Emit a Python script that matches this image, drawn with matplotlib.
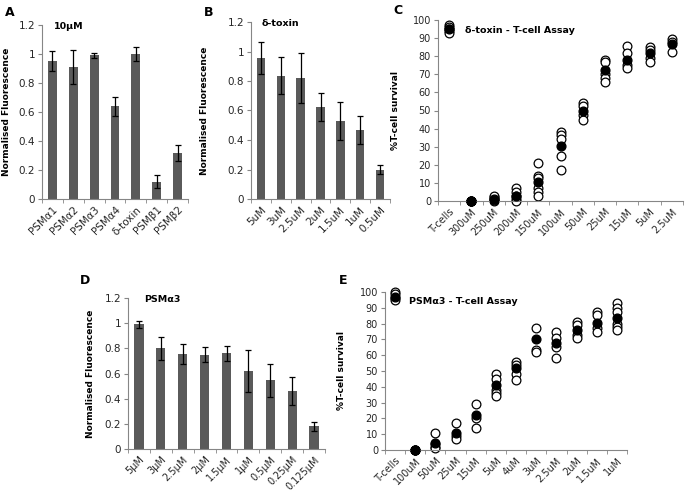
import numpy as np
import matplotlib
matplotlib.use("Agg")
import matplotlib.pyplot as plt
from matplotlib.ticker import FuncFormatter, FixedLocator

# panel A - 10uM screen
a_labels = ["PSMα1", "PSMα2", "PSMα3", "PSMα4", "δ-toxin", "PSMβ1", "PSMβ2"]
a_values = [0.95, 0.91, 0.99, 0.64, 1.00, 0.12, 0.32]
a_errors = [0.07, 0.12, 0.02, 0.065, 0.05, 0.045, 0.055]

# panel B - delta-toxin dilution
b_labels = ["5uM", "3uM", "2.5uM", "2uM", "1.5uM", "1uM", "0.5uM"]
b_values = [0.955, 0.835, 0.82, 0.625, 0.53, 0.465, 0.20]
b_errors = [0.11, 0.125, 0.17, 0.095, 0.13, 0.095, 0.03]

# panel D - PSMa3 dilution
d_labels = ["5μM", "3μM", "2.5μM", "2μM", "1.5μM", "1μM", "0.5μM", "0.25μM", "0.125μM"]
d_values = [0.99, 0.80, 0.755, 0.75, 0.76, 0.62, 0.545, 0.46, 0.18]
d_errors = [0.025, 0.09, 0.08, 0.06, 0.06, 0.165, 0.13, 0.11, 0.035]

# panel C - delta-toxin T-cell assay
c_labels = ["T-cells", "300uM", "250uM", "200uM", "150uM", "100uM",
            "50uM", "25uM", "15uM", "5uM", "2.5uM"]
c_reps = [
    [97, 96, 95, 94, 93],
    [0, 0, 0, 0, 0],
    [0, 0.5, 1, 2, 2.5],
    [7, 5, 3, 1, 0],
    [21, 14, 12.5, 7, 5, 3],
    [38, 36.5, 34, 25, 17],
    [54, 52.5, 47.5, 45],
    [78, 77, 70, 68, 66],
    [85.5, 82, 75, 73.5],
    [85, 83.5, 79, 77],
    [89.5, 88, 82.5],
]
c_means = [95, 0, 1, 2.5, 10.5, 30.5, 50, 72.5, 78, 82, 86.5]

# panel E - PSMa3 T-cell assay
e_labels = ["T-cells", "100uM", "50uM", "25uM", "15uM", "5uM", "4uM",
            "3uM", "2.5uM", "2uM", "1.5uM", "1uM"]
e_reps = [
    [100, 99, 96, 95],
    [0, 0, 0, 0],
    [11, 4, 2, 1],
    [17, 9, 7],
    [29, 20, 14],
    [48, 45, 38, 36, 34],
    [56, 54, 48, 44],
    [77, 63, 62],
    [75, 71, 65, 58],
    [81, 79, 73, 71],
    [87.5, 85.5, 77, 75],
    [93, 90, 87.5, 80, 78, 76],
]
e_means = [97, 0, 4.5, 11, 22, 41, 52, 70, 68, 76, 80.5, 83.5]

BAR = "#5a5a5a"
SPINE = "#868686"
TXT = "#262626"

plt.rcParams["font.family"] = ["DejaVu Sans"]

fig = plt.figure(figsize=(6.86, 5.00), dpi=100)


def style_axes(ax, n):
    for s in ["top", "right"]:
        ax.spines[s].set_visible(False)
    for s in ["left", "bottom"]:
        ax.spines[s].set_color(SPINE)
        ax.spines[s].set_linewidth(0.8)
    ax.set_xlim(-0.5, n - 0.5)
    ax.set_xticks(np.arange(n))
    ax.xaxis.set_minor_locator(FixedLocator(np.arange(n + 1) - 0.5))
    ax.tick_params(axis="x", which="major", length=0, pad=4)
    ax.tick_params(axis="x", which="minor", length=3, color=SPINE, direction="out")
    ax.tick_params(axis="y", length=3, color=SPINE, direction="out", pad=2)


def bar_panel(rect, labels, values, errors, title, ylab_x, fs=7.5):
    ax = fig.add_axes(rect)
    x = np.arange(len(labels))
    ax.bar(x, values, width=0.42, color=BAR, zorder=2)
    ax.errorbar(x, values, yerr=errors, fmt="none", ecolor="black",
                elinewidth=0.9, capsize=2.2, capthick=0.9, zorder=3)
    style_axes(ax, len(labels))
    ax.set_ylim(0, 1.2)
    ax.set_yticks(np.arange(0, 1.21, 0.2))
    ax.yaxis.set_major_formatter(FuncFormatter(lambda v, p: "%g" % round(v, 1)))
    ax.set_xticklabels(labels, rotation=45, ha="right", rotation_mode="anchor",
                       fontsize=fs, color=TXT)
    for t in ax.get_yticklabels():
        t.set_fontsize(7.5)
        t.set_color(TXT)
    ax.set_ylabel("Normalised Fluorescence", fontsize=6.5, fontweight="bold")
    ax.yaxis.set_label_coords(ylab_x, 0.5)
    ax.text(0.08, 0.99, title, transform=ax.transAxes, fontsize=6.8,
            fontweight="bold", va="center", ha="left")
    return ax


def scatter_panel(rect, labels, reps, means, title, ylab_x, title_x):
    ax = fig.add_axes(rect)
    n = len(labels)
    for i, vals in enumerate(reps):
        ax.plot([i] * len(vals), vals, "o", ms=6.3, mfc="white", mec="black",
                mew=0.9, zorder=2, clip_on=False)
    ax.plot(np.arange(n), means, "o", ms=6.3, mfc="black", mec="black",
            zorder=3, clip_on=False)
    style_axes(ax, n)
    ax.set_ylim(0, 100)
    ax.set_yticks(np.arange(0, 101, 10))
    ax.set_xticklabels(labels, rotation=45, ha="right", rotation_mode="anchor",
                       fontsize=7, color=TXT)
    for t in ax.get_yticklabels():
        t.set_fontsize(7)
        t.set_color(TXT)
    ax.set_ylabel("%T-cell survival", fontsize=6.5, fontweight="bold")
    ax.yaxis.set_label_coords(ylab_x, 0.5)
    ax.text(title_x, 0.94, title, transform=ax.transAxes, fontsize=6.8,
            fontweight="bold", va="center", ha="left")
    return ax


W, H = 686.0, 500.0


def rect(l, r, t, b):
    return [l / W, (H - b) / H, (r - l) / W, (b - t) / H]


bar_panel(rect(42, 188, 25, 199), a_labels, a_values, a_errors, "10μM", -0.21)
bar_panel(rect(251, 390, 22, 199), b_labels, b_values, b_errors, "δ-toxin", -0.30)
bar_panel(rect(128, 325, 298, 449), d_labels, d_values, d_errors, "PSMα3", -0.17, fs=7)
scatter_panel(rect(438, 683, 20, 201), c_labels, c_reps, c_means,
              "δ-toxin - T-cell Assay", -0.155, 0.11)
scatter_panel(rect(385, 627, 292, 450), e_labels, e_reps, e_means,
              "PSMα3 - T-cell Assay", -0.16, 0.10)

for letter, x, y in [("A", 10, 12), ("B", 209, 12), ("C", 398, 10),
                     ("D", 85, 280), ("E", 343, 280)]:
    fig.text(x / W, 1 - y / H, letter, fontsize=9, fontweight="bold",
             ha="center", va="center")

fig.savefig("out.png", dpi=100)
